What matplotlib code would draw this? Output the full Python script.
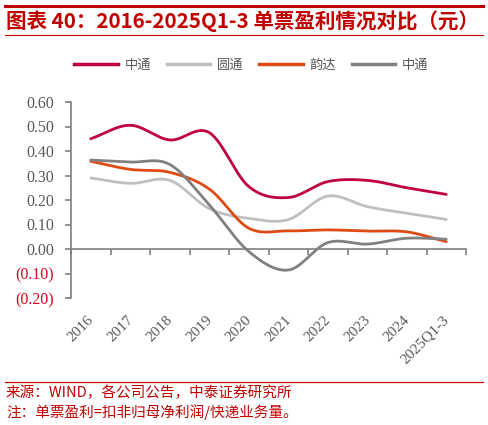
import numpy as np
import matplotlib
matplotlib.use("Agg")
import matplotlib.pyplot as plt
from matplotlib.lines import Line2D
from matplotlib.ticker import FixedLocator

categories = ["2016", "2017", "2018", "2019", "2020", "2021", "2022", "2023", "2024", "2025Q1-3"]
zto = [0.45, 0.505, 0.445, 0.475, 0.255, 0.21, 0.275, 0.28, 0.25, 0.223]
yto = [0.29, 0.268, 0.28, 0.165, 0.125, 0.12, 0.216, 0.173, 0.146, 0.121]
yunda = [0.358, 0.325, 0.313, 0.245, 0.085, 0.074, 0.078, 0.073, 0.07, 0.03]
sto = [0.363, 0.355, 0.345, 0.18, -0.01, -0.086, 0.026, 0.02, 0.044, 0.04]
series_names = ["中通", "圆通", "韵达", "中通"]
colors = ["#C0003C", "#BFBFBF", "#DE4A14", "#808080"]
yticks = [-0.2, -0.1, 0.0, 0.1, 0.2, 0.3, 0.4, 0.5, 0.6]

CJK = ["Noto Sans CJK SC", "DejaVu Sans"]
SERIF = ["Liberation Serif", "DejaVu Serif"]


def catmull(x, y, n=30):
    x = np.asarray(x, float); y = np.asarray(y, float)
    px = np.concatenate([[2 * x[0] - x[1]], x, [2 * x[-1] - x[-2]]])
    py = np.concatenate([[2 * y[0] - y[1]], y, [2 * y[-1] - y[-2]]])
    xs, ys = [], []
    for i in range(1, len(px) - 2):
        t = np.linspace(0, 1, n, endpoint=False)
        for p, out in ((px, xs), (py, ys)):
            p0, p1, p2, p3 = p[i - 1], p[i], p[i + 1], p[i + 2]
            out.append(0.5 * ((2 * p1) + (-p0 + p2) * t + (2 * p0 - 5 * p1 + 4 * p2 - p3) * t ** 2
                              + (-p0 + 3 * p1 - 3 * p2 + p3) * t ** 3))
    xs.append([x[-1]]); ys.append([y[-1]])
    return np.concatenate(xs), np.concatenate(ys)


fig = plt.figure(figsize=(4.88, 4.25), dpi=100)
W, H = 488, 425

# header
fig.add_artist(Line2D([5 / W, 483 / W], [1 - 6 / H, 1 - 6 / H], color="#C00000", lw=2.2))
fig.add_artist(Line2D([5 / W, 483 / W], [1 - 35 / H, 1 - 35 / H], color="#C00000", lw=0.8))
fig.text(6 / W, 1 - 21 / H, "图表 40：2016-2025Q1-3 单票盈利情况对比（元）", color="#C00000",
         fontsize=14.8, fontweight="bold", style="italic", family=CJK, va="center", ha="left")

ax = fig.add_axes([71 / W, 1 - 298 / H, (466 - 71) / W, (298 - 102) / H])
x = np.arange(len(categories))
handles = []
for vals, c, name in zip([zto, yto, yunda, sto], colors, series_names):
    sx, sy = catmull(x, vals)
    ax.plot(sx, sy, color=c, lw=2.0, solid_capstyle="round")
    handles.append(Line2D([0], [0], color=c, lw=2.5, label=name))

ax.set_xlim(-0.5, len(categories) - 0.5)
ax.set_ylim(-0.2, 0.6)
for s in ["top", "right"]:
    ax.spines[s].set_visible(False)
ax.spines["bottom"].set_position(("data", 0))
ax.spines["left"].set_color("#808080")
ax.spines["bottom"].set_color("#808080")
ax.spines["left"].set_linewidth(1.2)
ax.spines["bottom"].set_linewidth(1.2)
ax.set_yticks(yticks)
ylabels = []
for v in yticks:
    ylabels.append("(%.2f)" % abs(v) if v < 0 else "%.2f" % v)
ax.set_yticklabels(ylabels, family=SERIF, fontsize=11.5, color="#595959")
for lab, v in zip(ax.get_yticklabels(), yticks):
    if v < 0:
        lab.set_color("#E00020")
ax.tick_params(axis="y", direction="out", length=4, color="#808080", width=1.2, pad=8)
ax.xaxis.set_major_locator(FixedLocator(np.arange(-0.5, len(categories), 1.0)))
ax.set_xticklabels([])
ax.tick_params(axis="x", direction="out", length=4, color="#808080", width=1.2)

# category labels below the plot
for i, c in enumerate(categories):
    ax.annotate(c, xy=(i, -0.2), xycoords="data", xytext=(-2.5, -11), textcoords="offset points",
                rotation=45, ha="right", va="top", rotation_mode="anchor",
                family=SERIF, fontsize=11, color="#595959")

fig.legend(handles=handles, loc="center", bbox_to_anchor=(0.515, 1 - 65 / H), ncol=4,
           frameon=False, prop={"family": CJK, "size": 9.5}, handlelength=3.3,
           columnspacing=1.2, handletextpad=0.5, labelcolor="#595959")

# footer
fig.add_artist(Line2D([5 / W, 483 / W], [1 - 382 / H, 1 - 382 / H], color="#C00000", lw=0.9))
fig.text(6 / W, 1 - 393 / H, "来源：WIND，各公司公告，中泰证券研究所", color="#C00000",
         fontsize=10.5, family=CJK, va="center", ha="left")
fig.text(6 / W, 1 - 412 / H, "注：单票盈利=扣非归母净利润/快递业务量。", color="#C00000",
         fontsize=10.5, family=CJK, va="center", ha="left")

fig.savefig("out.png", dpi=100)
